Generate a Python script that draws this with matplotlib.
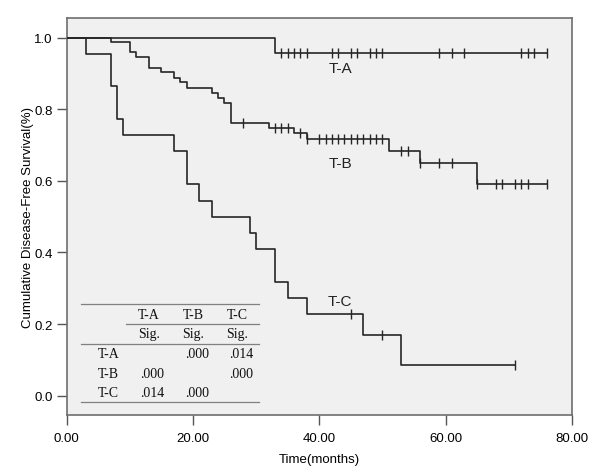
import numpy as np
import matplotlib
matplotlib.use("Agg")
import matplotlib.pyplot as plt

# ---- data ----
ta_event_times = [33]
ta_levels = [0.956]
ta_end = 76
ta_censor = [34, 35, 36, 37, 38, 42, 43, 45, 46, 48, 49, 50, 59, 61, 63, 72, 73, 74, 76]

tb_event_times = [7, 10, 11, 13, 15, 17, 18, 19, 23, 24, 25, 26, 32, 36, 38, 51, 56, 65]
tb_levels = [0.987, 0.959, 0.945, 0.916, 0.903, 0.888, 0.875, 0.859, 0.846, 0.832,
             0.818, 0.762, 0.748, 0.733, 0.716, 0.684, 0.649, 0.591]
tb_end = 76
tb_censor = [28, 33, 34, 35, 37, 38, 40, 41, 42, 43, 44, 45, 46, 47, 48, 49, 50,
             53, 54, 56, 59, 61, 65, 68, 69, 71, 72, 73, 76]

tc_event_times = [3, 7, 8, 9, 17, 19, 21, 23, 29, 30, 33, 35, 38, 47, 53]
tc_levels = [0.955, 0.864, 0.773, 0.727, 0.682, 0.591, 0.545, 0.500, 0.455, 0.409,
             0.318, 0.273, 0.227, 0.170, 0.085]
tc_end = 71
tc_censor = [45, 50, 71]

group_names = ["T-A", "T-B", "T-C"]
label_pos = [(43.3, 0.915), (43.3, 0.650), (43.3, 0.264)]

table_cols = ["T-A", "T-B", "T-C"]
table_rows = ["T-A", "T-B", "T-C"]
table_vals = [["", ".000", ".014"],
              [".000", "", ".000"],
              [".014", ".000", ""]]

x_ticks = [0, 20, 40, 60, 80]
y_ticks = [0.0, 0.2, 0.4, 0.6, 0.8, 1.0]

# ---- figure ----
fig = plt.figure(figsize=(6.0, 4.77), dpi=100)
ax = fig.add_axes([0.111, 0.128, 0.842, 0.833])
ax.set_facecolor("#f0f0f0")

line_col = "#262626"
groups = [
    (ta_event_times, ta_levels, ta_end, ta_censor),
    (tb_event_times, tb_levels, tb_end, tb_censor),
    (tc_event_times, tc_levels, tc_end, tc_censor),
]
for ev, lv, end, cens in groups:
    t = np.array([0] + list(ev) + [end], dtype=float)
    s = np.array([1.0] + list(lv) + [lv[-1]], dtype=float)
    ax.step(t, s, where="post", color=line_col, lw=1.2, zorder=3)
    idx = np.searchsorted(t[:-1], np.array(cens, dtype=float), side="right") - 1
    ax.plot(cens, s[idx], linestyle="none", marker="|", markersize=7,
            markeredgewidth=1.0, color=line_col, zorder=4)

for name, (x, y) in zip(group_names, label_pos):
    ax.text(x, y, name, ha="center", va="center", fontsize=11,
            family="Liberation Sans", color="#222222")

ax.set_xlim(0, 80)
ax.set_ylim(-0.054, 1.056)
ax.set_xticks(x_ticks)
ax.set_xticklabels([f"{v:.2f}" for v in x_ticks])
ax.set_yticks(y_ticks)
ax.set_yticklabels([f"{v:.1f}" for v in y_ticks])
for sp in ax.spines.values():
    sp.set_color("#6e6e6e")
    sp.set_linewidth(1.2)
ax.tick_params(direction="out", length=7, width=1.0, color="#555555",
               labelsize=9.5, top=False, right=False)
ax.tick_params(axis="x", pad=5)
ax.tick_params(axis="y", pad=3)
for lab in ax.get_xticklabels() + ax.get_yticklabels():
    lab.set_family("Liberation Sans")
ax.set_xlabel("Time(months)", fontsize=9.5, family="Liberation Sans", labelpad=7)
ax.set_ylabel("Cumulative Disease-Free Survival(%)", fontsize=9.5,
              family="Liberation Sans", labelpad=0.5)

# ---- inset table (pixel-based positioning in axes fraction) ----
W, H = 600, 477
ax_l, ax_b, ax_w, ax_h = 0.111 * W, (1 - 0.128) * H, 0.842 * W, 0.833 * H
def fx(px):
    return (px - ax_l) / ax_w
def fy(py):
    return (ax_b - py) / ax_h

tcol = "#808080"
kw = dict(transform=ax.transAxes, color=tcol, lw=0.9, zorder=5)
ax.plot([fx(80.7), fx(259.3)], [fy(305), fy(305)], **kw)
ax.plot([fx(125.7), fx(259.3)], [fy(324.5), fy(324.5)], **kw)
ax.plot([fx(80.7), fx(259.3)], [fy(344.5), fy(344.5)], **kw)
ax.plot([fx(80.7), fx(259.3)], [fy(402.7), fy(402.7)], **kw)

tkw = dict(transform=ax.transAxes, fontsize=10, family="Liberation Serif",
           color="#111111", va="center", zorder=6)
col_centers = [149, 193.5, 237.5]
col_rights = [164.5, 209, 253.5]
for c, xc in zip(table_cols, col_centers):
    ax.text(fx(xc), fy(315.5), c, ha="center", **tkw)
    ax.text(fx(xc), fy(335), "Sig.", ha="center", **tkw)
row_y = [355, 374.5, 393.5]
for r, yy, vals in zip(table_rows, row_y, table_vals):
    ax.text(fx(108.5), fy(yy), r, ha="center", **tkw)
    for v, xr in zip(vals, col_rights):
        if v:
            ax.text(fx(xr), fy(yy), v, ha="right", **tkw)

fig.savefig("out.png", dpi=100, facecolor="white")
